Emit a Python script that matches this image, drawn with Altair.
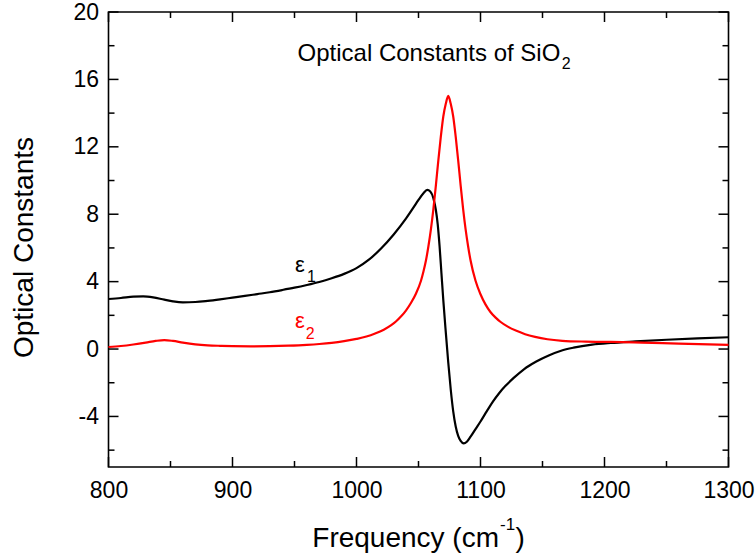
import altair as alt
import pandas as pd

# ---- data ----
freq_e1 = [800, 810, 820, 828, 836, 845, 852, 860, 870, 880, 890, 900, 910, 920, 930, 940,
           950, 960, 970, 980, 990, 1000, 1010, 1020, 1030, 1040, 1046, 1050, 1054, 1057,
           1059.5, 1062, 1064, 1065.5, 1067, 1068.5, 1070, 1072, 1074, 1076, 1078, 1080,
           1082, 1084, 1086.5, 1089, 1092, 1096, 1100, 1105, 1110, 1115, 1120, 1127, 1135,
           1145, 1155, 1165, 1175, 1190, 1205, 1225, 1250, 1275, 1300]
eps1 = [2.97, 3.03, 3.11, 3.13, 3.07, 2.93, 2.83, 2.77, 2.79, 2.86, 2.95, 3.05, 3.15, 3.26, 3.37, 3.5,
        3.64, 3.8, 3.98, 4.2, 4.46, 4.8, 5.3, 5.98, 6.8, 7.75, 8.4, 8.85, 9.25, 9.44,
        9.35, 8.95, 8.25, 7.4, 6.1, 4.5, 2.9, 1.0, -0.8, -2.4, -3.7, -4.6,
        -5.15, -5.45, -5.6, -5.5, -5.2, -4.75, -4.3, -3.7, -3.12, -2.62, -2.2, -1.7, -1.2,
        -0.74, -0.38, -0.1, 0.08, 0.26, 0.36, 0.45, 0.55, 0.63, 0.7]

freq_e2 = [800, 810, 820, 830, 838, 845, 852, 860, 870, 880, 890, 900, 915, 930, 945, 960,
           970, 980, 990, 1000, 1008, 1015, 1022, 1028, 1032, 1036, 1040, 1044, 1048, 1052,
           1054, 1056, 1058, 1060, 1062, 1064, 1066, 1068, 1070, 1072, 1074, 1076, 1078,
           1080, 1082, 1084, 1086, 1088, 1090, 1092, 1096, 1100, 1104, 1108, 1112, 1116,
           1122, 1129, 1136, 1144, 1154, 1166, 1185, 1205, 1230, 1260, 1300]
eps2 = [0.12, 0.18, 0.27, 0.38, 0.48, 0.53, 0.48, 0.38, 0.28, 0.22, 0.19, 0.17, 0.16, 0.17, 0.2, 0.25,
        0.3, 0.37, 0.47, 0.6, 0.74, 0.92, 1.15, 1.42, 1.65, 1.94, 2.3, 2.75, 3.3, 4.05,
        4.6, 5.25, 6.1, 7.1, 8.3, 9.7, 11.2, 12.6, 13.8, 14.55, 15.03, 14.55, 13.8,
        12.6, 11.2, 9.7, 8.3, 7.1, 6.1, 5.25, 4.05, 3.25, 2.65, 2.2, 1.88, 1.62,
        1.33, 1.08, 0.88, 0.72, 0.58, 0.49, 0.44, 0.42, 0.38, 0.32, 0.25]

series_names = ["ε1", "ε2"]
series_colors = ["#000000", "#ff0000"]

x_major = [800, 900, 1000, 1100, 1200, 1300]
x_minor = [850, 950, 1050, 1150, 1250]
y_major = [-4, 0, 4, 8, 12, 16, 20]
y_minor = [-6, -2, 2, 6, 10, 14, 18]

# in-plot annotations (data coordinates)
title_main = "Optical Constants of SiO"
title_sub = "2"
lbl_main = ["ε", "ε"]
lbl_sub = ["1", "2"]

# ---- layout ----
W, H = 620, 455
FONT = "Liberation Sans"
xs = alt.Scale(domain=[800, 1300], nice=False, zero=False)
ys = alt.Scale(domain=[-7, 20], nice=False, zero=False)
xax = alt.Axis(values=x_major, ticks=False, tickSize=0, domain=False, grid=False, title=None,
               labelFontSize=23, labelFont=FONT, labelColor="black", labelPadding=12,
               labelFlush=False, labelExpr="'' + datum.value")
yax = alt.Axis(values=y_major, ticks=False, tickSize=0, domain=False, grid=False, title=None,
               labelFontSize=23, labelFont=FONT, labelColor="black", labelPadding=10,
               labelFlush=False, labelExpr="'' + datum.value")

def X(field):
    return alt.X(field, scale=xs, axis=xax)

def Y(field):
    return alt.Y(field, scale=ys, axis=yax)

df = pd.DataFrame({
    "f": freq_e1 + freq_e2,
    "v": eps1 + eps2,
    "s": [series_names[0]] * len(freq_e1) + [series_names[1]] * len(freq_e2),
})
col = alt.Color("s:N", scale=alt.Scale(domain=series_names, range=series_colors), legend=None)

lines = alt.Chart(df).mark_line(strokeWidth=2.2, interpolate="monotone").encode(
    x=X("f:Q"), y=Y("v:Q"), color=col, detail="s:N")

def yticks(vals, length):
    d = pd.DataFrame({"v": vals})
    left = alt.Chart(d).mark_rule(color="black", strokeWidth=1.5).encode(
        y=Y("v:Q"), x=alt.value(0), x2=alt.value(length))
    right = alt.Chart(d).mark_rule(color="black", strokeWidth=1.5).encode(
        y=Y("v:Q"), x=alt.value(W - length), x2=alt.value(W))
    return [left, right]

def xticks(vals, length):
    d = pd.DataFrame({"f": vals})
    bottom = alt.Chart(d).mark_rule(color="black", strokeWidth=1.5).encode(
        x=X("f:Q"), y=alt.value(H - length), y2=alt.value(H))
    top = alt.Chart(d).mark_rule(color="black", strokeWidth=1.5).encode(
        x=X("f:Q"), y=alt.value(0), y2=alt.value(length))
    return [bottom, top]

tick_layers = yticks(y_major, 10) + yticks(y_minor, 6) + xticks(x_major, 10) + xticks(x_minor, 6)

# title inside plot
t_main = alt.Chart(pd.DataFrame({"f": [1164.4], "v": [17.1], "t": [title_main]})).mark_text(
    align="right", baseline="alphabetic", fontSize=24, font=FONT, color="black").encode(
    x=X("f:Q"), y=Y("v:Q"), text="t:N")
t_sub = alt.Chart(pd.DataFrame({"f": [1165.6], "v": [16.6], "t": [title_sub]})).mark_text(
    align="left", baseline="alphabetic", fontSize=16, font=FONT, color="black").encode(
    x=X("f:Q"), y=Y("v:Q"), text="t:N")

# epsilon labels
lab_df = pd.DataFrame({"f": [950.4, 950.4], "v": [4.59, 1.25], "t": lbl_main, "s": series_names})
sub_df = pd.DataFrame({"f": [960.0, 959.0], "v": [3.96, 0.59], "t": lbl_sub, "s": series_names})
e_main = alt.Chart(lab_df).mark_text(align="left", baseline="alphabetic", fontSize=22, font=FONT).encode(
    x=X("f:Q"), y=Y("v:Q"), text="t:N", color=col)
e_sub = alt.Chart(sub_df).mark_text(align="left", baseline="alphabetic", fontSize=16, font=FONT).encode(
    x=X("f:Q"), y=Y("v:Q"), text="t:N", color=col)

# axis titles (outside plot, pixel placement)
ytitle = alt.Chart(pd.DataFrame({"t": ["Optical Constants"]})).mark_text(
    angle=270, align="center", baseline="alphabetic", fontSize=28, font=FONT, color="black").encode(
    x=alt.value(-75.5), y=alt.value(235.5), text="t:N")
xt_main = alt.Chart(pd.DataFrame({"t": ["Frequency (cm"]})).mark_text(
    align="right", baseline="alphabetic", fontSize=28, font=FONT, color="black").encode(
    x=alt.value(390.5), y=alt.value(534.7), text="t:N")
xt_sup = alt.Chart(pd.DataFrame({"t": ["-1"]})).mark_text(
    align="left", baseline="alphabetic", fontSize=17, font=FONT, color="black").encode(
    x=alt.value(391.5), y=alt.value(518), text="t:N")
xt_close = alt.Chart(pd.DataFrame({"t": [")"]})).mark_text(
    align="left", baseline="alphabetic", fontSize=28, font=FONT, color="black").encode(
    x=alt.value(407), y=alt.value(534.7), text="t:N")

chart = alt.layer(
    lines, *tick_layers, t_main, t_sub, e_main, e_sub, ytitle, xt_main, xt_sup, xt_close
).properties(
    width=W, height=H,
    autosize=alt.AutoSizeParams(type="none"),
    padding={"left": 108.5, "top": 12, "right": 27.5, "bottom": 91},
    background="white",
).configure_view(stroke="black", strokeWidth=1.6)

chart.save("out.html", embed_options={"renderer": "svg", "actions": False})
